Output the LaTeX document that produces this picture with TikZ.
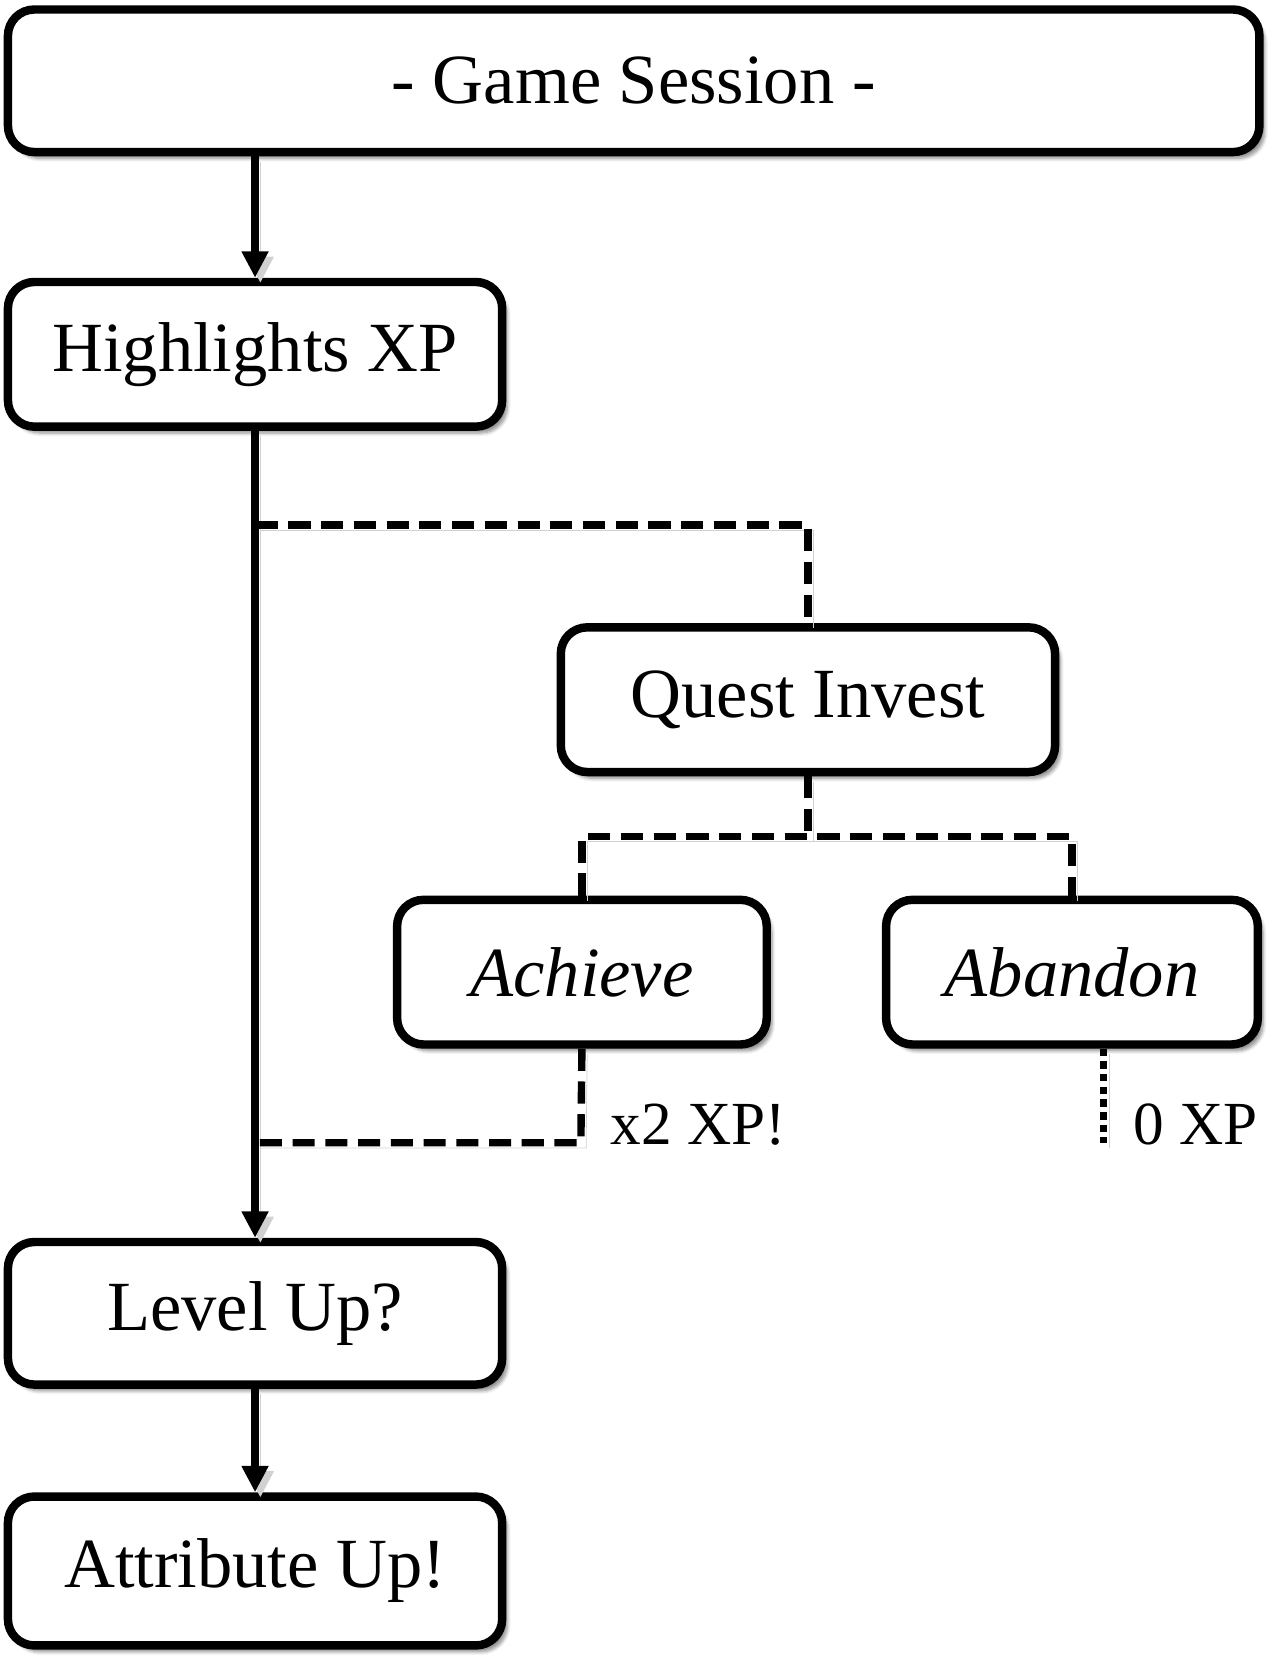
\documentclass[tikz,border=0pt]{standalone}
\usepackage{fontspec}
\setmainfont{Liberation Serif}
\usetikzlibrary{arrows.meta,shadows.blur,calc}
\begin{document}
\begin{tikzpicture}[
  box/.style={draw=black, line width=0.16cm, rounded corners=0.5cm, fill=white,
    blur shadow={shadow xshift=0.1cm, shadow yshift=-0.12cm, shadow blur steps=6, shadow opacity=45},
    font=\fontsize{38}{40}\selectfont, inner sep=0pt},
  lshadow/.style={preaction={draw=black!18, transform canvas={shift={(0.1,-0.1)}}}},
  solidarrow/.style={line width=0.14cm, lshadow, -{Triangle[length=0.5cm,width=0.48cm]}},
  dashline/.style={line width=0.14cm, lshadow, dash pattern=on 0.42cm off 0.2cm},
  dotline/.style={line width=0.14cm, lshadow, dash pattern=on 0.14cm off 0.1cm},
  lbl/.style={font=\fontsize{33}{35}\selectfont, inner sep=0pt, anchor=base west}
]
\useasboundingbox (0,0) rectangle (24.04,-31.36);

\node[box, minimum width=23.7cm, minimum height=2.7cm] (gs) at (12.0,-1.53) {- Game Session -};
\node[box, minimum width=9.36cm, minimum height=2.74cm] (hl) at (4.83,-6.71) {Highlights XP};
\node[box, minimum width=9.36cm, minimum height=2.74cm] (qi) at (15.3,-13.25) {Quest Invest};
\node[box, minimum width=7.0cm, minimum height=2.74cm] (ach) at (11.02,-18.41) {\itshape Achieve};
\node[box, minimum width=7.04cm, minimum height=2.74cm] (ab) at (20.30,-18.41) {\itshape Abandon};
\node[box, minimum width=9.36cm, minimum height=2.7cm] (lu) at (4.83,-24.87) {Level Up?};
\node[box, minimum width=9.36cm, minimum height=2.82cm] (au) at (4.83,-29.75) {Attribute Up!};

\coordinate (j1) at (4.84,-9.94);
\coordinate (qj) at ($(qi.south)+(0,-1.14)$);
\coordinate (aj) at (11.0,-21.64);
\coordinate (bj) at (20.90,-21.64);

\draw[solidarrow] (hl.north |- gs.south) -- (hl.north);
\draw[solidarrow] (hl.south) -- (lu.north);
\draw[solidarrow] (lu.south) -- (au.north);

\draw[dashline] (j1) -| (qi.north);
\draw[dashline] (qi.south) -- (qj);
\draw[dashline] (ach.north) -- (ach.north |- qj) -- (ab.north |- qj) -- (ab.north);
\draw[dashline] (ach.south) -- (aj) -- (aj -| hl.south);
\draw[dotline] (ab.south -| bj) -- (bj);

\node[lbl] (x2) at (11.56,-21.68) {x2 XP!};
\node[lbl] (zero) at (21.46,-21.68) {0 XP};
\end{tikzpicture}
\end{document}
